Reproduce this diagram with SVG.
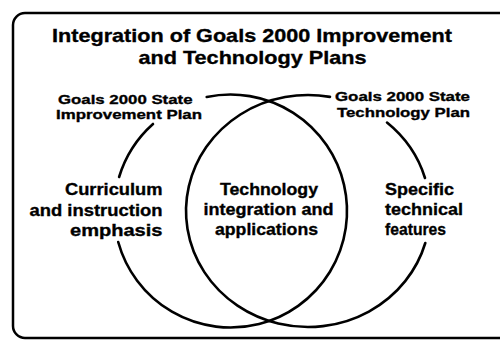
<svg xmlns="http://www.w3.org/2000/svg" width="500" height="340" viewBox="0 0 500 340">
<style>
.t{font-family:"Liberation Sans",Arial,Helvetica,sans-serif;font-weight:bold;fill:#000;stroke:#000;stroke-width:0.35}
.title{font-size:19px}
.lbl{font-size:13.5px}
.reg{font-size:17px}
.ln{fill:none;stroke:#000;stroke-width:2.6;stroke-linecap:round}
</style>
<rect width="500" height="340" fill="#fff"/>
<g id="frame"><rect x="13" y="13" width="520" height="325" rx="12" ry="12" fill="none" stroke="#000" stroke-width="2.5"/></g>
<g id="title">
<text class="t title" x="52" y="41.5" textLength="400" lengthAdjust="spacingAndGlyphs">Integration of Goals 2000 Improvement</text>
<text class="t title" x="138.5" y="63.5" textLength="228" lengthAdjust="spacingAndGlyphs">and Technology Plans</text>
</g>
<g id="connectors">
<path id="improvement-circle-main" class="ln" d="M 206.7 97 A 116.5 116.5 0 1 1 118.2 242"/>
<path id="improvement-circle-left" class="ln" d="M 153 124 A 116.5 116.5 0 0 0 119.1 177"/>
<path id="technology-circle-main" class="ln" d="M 330 96.9 A 122 116 0 1 0 425.3 243"/>
<path id="technology-circle-right" class="ln" d="M 387 122.6 A 122 116 0 0 1 425 178"/>
</g>
<g id="improvement-plan">
<text class="t lbl" x="58" y="104" textLength="134.5" lengthAdjust="spacingAndGlyphs">Goals 2000 State</text>
<text class="t lbl" x="56" y="119" textLength="146" lengthAdjust="spacingAndGlyphs">Improvement Plan</text>
</g>
<g id="technology-plan">
<text class="t lbl" x="335" y="100.7" textLength="135" lengthAdjust="spacingAndGlyphs">Goals 2000 State</text>
<text class="t lbl" x="337" y="116.5" textLength="133" lengthAdjust="spacingAndGlyphs">Technology Plan</text>
</g>
<g id="curriculum">
<text class="t reg" x="65" y="195" textLength="97.5" lengthAdjust="spacingAndGlyphs">Curriculum</text>
<text class="t reg" x="29.5" y="215.5" textLength="133" lengthAdjust="spacingAndGlyphs">and instruction</text>
<text class="t reg" x="70" y="235.5" textLength="92.5" lengthAdjust="spacingAndGlyphs">emphasis</text>
</g>
<g id="integration">
<text class="t reg" x="220" y="195" textLength="98" lengthAdjust="spacingAndGlyphs">Technology</text>
<text class="t reg" x="203.5" y="215" textLength="130" lengthAdjust="spacingAndGlyphs">integration and</text>
<text class="t reg" x="215" y="235" textLength="103" lengthAdjust="spacingAndGlyphs">applications</text>
</g>
<g id="technical">
<text class="t reg" x="385" y="195" textLength="69" lengthAdjust="spacingAndGlyphs">Specific</text>
<text class="t reg" x="385" y="215" textLength="78" lengthAdjust="spacingAndGlyphs">technical</text>
<text class="t reg" x="385" y="235" textLength="61" lengthAdjust="spacingAndGlyphs">features</text>
</g>
</svg>
